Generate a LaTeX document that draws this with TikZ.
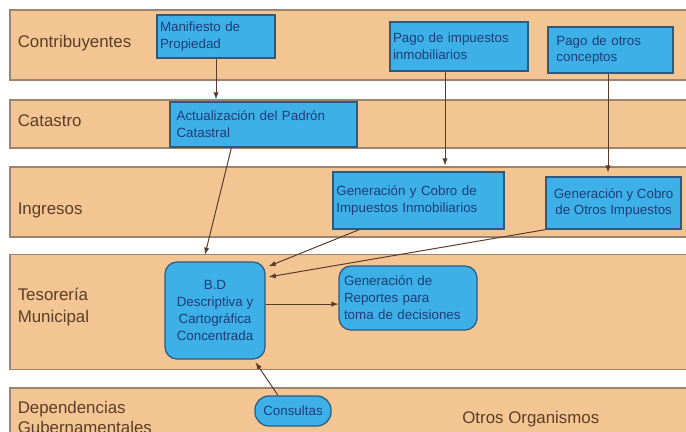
\documentclass[tikz,border=0pt]{standalone}
\usepackage{fontspec}
\setmainfont{Liberation Sans}
\usetikzlibrary{positioning, calc}

\definecolor{bandfill}{HTML}{F3C593}
\definecolor{banddraw}{HTML}{9C8472}
\definecolor{taskfill}{HTML}{3DB0E8}
\definecolor{taskdraw}{HTML}{2E5A80}
\definecolor{tasktext}{HTML}{1E3C78}
\definecolor{lbltext}{HTML}{5A3E28}
\definecolor{arrline}{HTML}{5A3A2A}

\begin{document}
\begin{tikzpicture}[y=-1cm,
		band/.style={draw=banddraw, fill=bandfill, line width=0.8pt, minimum width=17cm},
		task/.style={draw=taskdraw, fill=taskfill, line width=0.9pt, text=tasktext, font=\fontsize{9.5}{12}\selectfont, inner sep=2pt},
		rtask/.style={task, rounded corners=.3cm},
		lbl/.style={anchor=west, text=lbltext, font=\fontsize{12}{14}\selectfont, align=left},
		flow/.style={-latex, draw=arrline, line width=0.7pt}]
			\useasboundingbox (0,0) rectangle (17.15,10.8);
			\clip (0,0) rectangle (17.15,10.8);

			% carriles
			\node (contrib) at (8.75, 1.125) [band, minimum height=1.75cm] {};
			\node (catastro) at (8.75, 3.1) [band, minimum height=1.2cm] {};
			\node (ingresos) at (8.75, 5.05) [band, minimum height=1.75cm] {};
			\node (tesoreria) at (8.75, 7.81) [band, minimum height=2.875cm] {};
			\node (depend) at (8.75, 10.4) [band, minimum height=1.4cm] {};

			\node (lcontrib) at (0.32, 1.07) [lbl] {Contribuyentes};
			\node (lcatastro) at (0.32, 3.02) [lbl] {Catastro};
			\node (lingresos) at (0.32, 5.25) [lbl] {Ingresos};
			\node (ltesoreria) at (0.32, 7.67) [lbl, font=\fontsize{12}{15.5}\selectfont] {Tesorería\\Municipal};
			\node (ldepend) at (0.32, 10.43) [lbl] {Dependencias\\Gubernamentales};
			\node (lotros) at (13.27, 10.48) [lbl, anchor=center] {Otros Organismos};

			% procesos
			\node (manif) at (5.4, 0.9125) [task, minimum width=2.95cm, minimum height=1.075cm, text width=2.8cm, align=left] {Manifiesto de\\Propiedad};
			\node (pagoimp) at (11.475, 1.1625) [task, minimum width=3.45cm, minimum height=1.225cm, text width=3.3cm, align=left] {Pago de impuestos\\inmobiliarios};
			\node (pagootros) at (15.26, 1.25) [task, minimum width=3.125cm, minimum height=1.15cm, text width=2.7cm, align=left] {Pago de otros\\conceptos};
			\node (actual) at (6.59, 3.11) [task, minimum width=4.675cm, minimum height=1.125cm, text width=4.35cm, align=left] {Actualización del Padrón\\Catastral};
			\node (genimp) at (10.46, 5.01) [task, minimum width=4.275cm, minimum height=1.425cm, text width=4.1cm, align=left] {Generación y Cobro de\\Impuestos Inmobiliarios};
			\node (genotros) at (15.34, 5.075) [task, minimum width=3.375cm, minimum height=1.3cm, align=center] {Generación y Cobro\\de Otros Impuestos};
			\node (bd) at (5.375, 7.7625) [rtask, minimum width=2.5cm, minimum height=2.425cm, align=center] {B.D\\Descriptiva y\\Cartográfica\\Concentrada};
			\node (reportes) at (10.2, 7.45) [rtask, minimum width=3.45cm, minimum height=1.6cm, text width=3.2cm, align=left] {Generación de\\Reportes para\\toma de decisiones};
			\node (consultas) at (7.325, 10.275) [rtask, rounded corners=.35cm, minimum width=1.9cm, minimum height=0.75cm] {Consultas};

			% flujos
			\draw [flow] (manif.south) -- ($(manif.south |- actual.north)+(0,-0.05)$);
			\draw [flow] ([xshift=-0.35cm]pagoimp.south) -- ($([xshift=-0.35cm]pagoimp.south |- genimp.north)+(0,-0.15)$);
			\draw [flow] ([xshift=-0.06cm]pagootros.south) -- ($([xshift=-0.06cm]pagootros.south |- genotros.north)+(0,-0.1)$);
			\draw [flow] ([xshift=1.55cm]actual.south west) -- ([xshift=-0.25cm, yshift=0.17cm]bd.north);
			\draw [flow] ([xshift=0.68cm]genimp.south west) -- ([xshift=0.08cm, yshift=-0.12cm]bd.north east);
			\draw [flow] (genotros.south west) -- ([xshift=0.08cm, yshift=0.84cm]bd.east);
			\draw [flow] ([yshift=0.16cm]bd.east) -- ([yshift=0.16cm]bd.east -| reportes.west);
			\draw [flow] ([xshift=-0.375cm]consultas.north) -- ([xshift=-0.25cm, yshift=-0.07cm]bd.south east);
\end{tikzpicture}
\end{document}
